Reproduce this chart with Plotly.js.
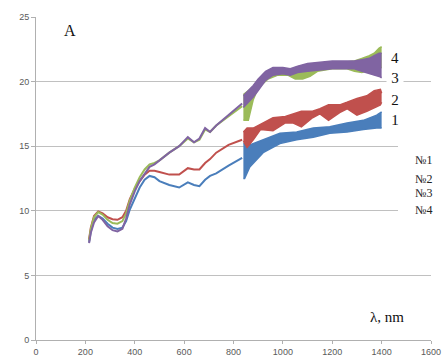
<!DOCTYPE html>
<html>
<head>
<meta charset="utf-8">
<script src="https://cdn.plot.ly/plotly-3.0.1.min.js"></script>
<style>html,body{margin:0;padding:0;background:#fff;}#chart{width:443px;height:358px;}</style>
</head>
<body>
<div id="chart"></div>
<script>
// Smooth part of the spectra (nm)
const wlLine = [215, 222, 235, 252, 270, 290, 310, 330, 350, 365, 380, 400, 420, 440, 460, 480, 500, 540, 580, 615, 640, 662, 685, 705, 730, 780, 835];
const s1Line = [7.6, 8.4, 9.3, 9.6, 9.4, 9.0, 8.7, 8.6, 8.7, 9.2, 10.1, 11.0, 11.8, 12.4, 12.7, 12.6, 12.3, 12.0, 11.8, 12.2, 12.0, 11.9, 12.4, 12.7, 12.9, 13.5, 14.1];
const s2Line = [7.8, 8.7, 9.6, 9.95, 9.8, 9.5, 9.35, 9.3, 9.5, 10.0, 10.9, 11.7, 12.3, 12.8, 13.1, 13.1, 13.0, 12.8, 12.8, 13.3, 13.2, 13.2, 13.7, 14.0, 14.5, 15.1, 15.5];
const s3Line = [7.7, 8.6, 9.5, 9.9, 9.7, 9.3, 9.05, 9.0, 9.2, 9.8, 10.8, 11.8, 12.6, 13.2, 13.6, 13.7, 13.9, 14.5, 15.0, 15.6, 15.3, 15.5, 16.3, 16.1, 16.6, 17.3, 18.1];
const s4Line = [7.5, 8.3, 9.1, 9.6, 9.3, 8.8, 8.5, 8.4, 8.6, 9.4, 10.5, 11.5, 12.3, 12.9, 13.4, 13.6, 13.9, 14.5, 15.0, 15.7, 15.3, 15.6, 16.4, 16.1, 16.6, 17.4, 18.3];

// Noisy part (envelopes of the noise band)
const wlBand1 = [840, 845, 866, 920, 988, 1056, 1123, 1190, 1260, 1326, 1380, 1400];
const s1High  = [15.2, 15.2, 15.1, 15.5, 16.0, 16.1, 16.4, 16.5, 16.8, 17.0, 17.4, 17.65];
const s1Low   = [12.5, 12.5, 13.4, 14.5, 15.2, 15.5, 15.7, 16.0, 16.1, 16.3, 16.4, 16.4];

const wlBand2 = [840, 855, 880, 910, 960, 1010, 1040, 1075, 1120, 1150, 1185, 1230, 1260, 1300, 1340, 1370, 1395, 1400];
const s2High  = [16.1, 16.4, 16.4, 16.7, 17.2, 17.3, 17.5, 17.7, 17.7, 17.9, 18.2, 18.2, 18.4, 18.7, 18.9, 19.3, 19.4, 19.1];
const s2Low   = [15.4, 14.9, 15.5, 16.3, 16.2, 16.8, 16.8, 16.5, 17.2, 17.5, 17.0, 17.6, 17.9, 17.4, 17.7, 18.0, 18.2, 18.4];

const wlBand3 = [840, 860, 880, 900, 940, 980, 1020, 1050, 1080, 1110, 1140, 1200, 1260, 1290, 1320, 1350, 1370, 1390, 1400];
const s3High  = [19.0, 19.3, 19.6, 20.1, 20.7, 20.9, 20.8, 20.9, 21.0, 21.2, 21.3, 21.4, 21.5, 21.6, 21.8, 22.0, 22.2, 22.6, 22.7];
const s3Low   = [17.0, 17.0, 18.6, 19.5, 20.2, 20.5, 20.5, 20.2, 20.2, 20.4, 20.8, 21.0, 21.0, 20.8, 20.7, 20.9, 21.0, 21.0, 21.1];

const wlBand4 = [840, 860, 880, 900, 930, 960, 1000, 1030, 1060, 1100, 1150, 1200, 1250, 1290, 1320, 1350, 1370, 1390, 1400];
const s4High  = [18.9, 19.3, 19.7, 20.2, 20.8, 21.1, 21.1, 21.0, 21.2, 21.4, 21.5, 21.6, 21.6, 21.6, 21.7, 21.8, 22.0, 22.2, 22.2];
const s4Low   = [18.0, 18.4, 18.8, 19.3, 20.1, 20.5, 20.6, 20.5, 20.7, 20.8, 20.9, 21.0, 21.0, 21.0, 20.8, 20.6, 20.5, 20.4, 20.3];

const curveLabels = ['1', '2', '3', '4'];
const curveLabelY = [17.0, 18.56, 20.26, 21.8];
const legendLabels = ['№1', '№2', '№3', '№4'];
const legendY = [13.9, 12.5, 11.4, 10.05];

const colors = ['#4A7EBB', '#C0504D', '#9BBB59', '#8064A2'];
const lines = [s1Line, s2Line, s3Line, s4Line];
const bands = [[wlBand1, s1Low, s1High], [wlBand2, s2Low, s2High], [wlBand3, s3Low, s3High], [wlBand4, s4Low, s4High]];

const traces = [];
for (let i = 0; i < 4; i++) {
  traces.push({x: wlLine, y: lines[i], mode: 'lines', line: {color: colors[i], width: 2}, showlegend: false, hoverinfo: 'skip'});
  traces.push({x: bands[i][0], y: bands[i][1], mode: 'lines', line: {color: colors[i], width: 1.5}, showlegend: false, hoverinfo: 'skip'});
  traces.push({x: bands[i][0], y: bands[i][2], mode: 'lines', fill: 'tonexty', fillcolor: colors[i], line: {color: colors[i], width: 1.5}, showlegend: false, hoverinfo: 'skip'});
}

const serif = 'Liberation Serif, Times New Roman, serif';
const annotations = [
  {x: 136, y: 24.0, text: 'A', showarrow: false, font: {family: serif, size: 16, color: '#111'}, bgcolor: '#fff', width: 40, height: 30},
  {x: 1422, y: 1.78, text: 'λ, nm', showarrow: false, font: {family: serif, size: 15, color: '#111'}}
];
for (let i = 0; i < 4; i++) {
  annotations.push({x: 1455, y: curveLabelY[i], text: curveLabels[i], showarrow: false,
    font: {family: serif, size: 15, color: '#111'}, bgcolor: i === 2 ? '#fff' : 'rgba(0,0,0,0)', width: 14});
  annotations.push({x: 1568, y: legendY[i], text: legendLabels[i], showarrow: false,
    font: {family: serif, size: 12, color: '#222'}});
}

const tickFont = {family: 'Liberation Sans, Arial, sans-serif', size: 9, color: '#595959'};
const layout = {
  width: 443, height: 358,
  margin: {l: 36, r: 12, t: 17, b: 18, pad: 0},
  paper_bgcolor: '#fff', plot_bgcolor: '#fff',
  xaxis: {range: [0, 1600], dtick: 200, tick0: 0, showgrid: false, zeroline: false,
    showline: true, linecolor: '#b0b0b0', linewidth: 1, ticks: 'outside', ticklen: 3, tickcolor: '#b0b0b0',
    tickfont: tickFont},
  yaxis: {range: [0, 25], dtick: 5, tick0: 0, showgrid: true, gridcolor: '#c0c0c0', gridwidth: 1, zeroline: false,
    showline: true, linecolor: '#b0b0b0', linewidth: 1, ticks: 'outside', ticklen: 4, tickcolor: '#b0b0b0',
    tickfont: tickFont},
  shapes: [
    {type: 'rect', xref: 'paper', yref: 'paper', x0: (398 - 36) / 395, x1: 1.03, y0: (340 - 216) / 323, y1: (340 - 138) / 323,
      fillcolor: '#fff', line: {width: 0}, layer: 'above'}
  ],
  annotations: annotations
};

Plotly.newPlot('chart', traces, layout, {staticPlot: true, displayModeBar: false});
</script>
</body>
</html>
